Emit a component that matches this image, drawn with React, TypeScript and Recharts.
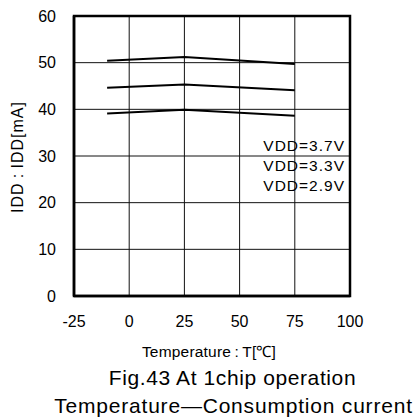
import React from "react";
import { LineChart, Line, XAxis, YAxis, CartesianGrid, ReferenceArea } from "recharts";

const temperatures = [-10, 25, 75];
const idd37 = [50.4, 51.2, 49.7];
const idd33 = [44.6, 45.3, 44.1];
const idd29 = [39.1, 39.9, 38.6];
const xTicks = [-25, 0, 25, 50, 75, 100];
const yTicks = [0, 10, 20, 30, 40, 50, 60];
const seriesLabels = ["VDD=3.7V", "VDD=3.3V", "VDD=2.9V"];

const data = temperatures.map((t, i) => ({ t, a: idd37[i], b: idd33[i], c: idd29[i] }));

const FONT = "'Liberation Sans', Arial, sans-serif";

const centered = (x: number, y: number, size: number, spacing: number): React.CSSProperties => ({
  position: "absolute",
  left: x,
  top: y,
  transform: "translate(-50%, -50%)",
  fontSize: size,
  letterSpacing: spacing,
  whiteSpace: "nowrap",
  lineHeight: 1.15,
});

export default function App() {
  return (
    <div style={{ position: "absolute", left: 0, top: 0, width: 414, height: 417, background: "#fff", fontFamily: FONT, color: "#000", overflow: "hidden" }}>
      <LineChart width={414} height={417} data={data} margin={{ top: 16, right: 64, bottom: 0, left: 44 }}>
        <CartesianGrid stroke="#111" strokeWidth={1} verticalValues={xTicks} horizontalValues={yTicks} />
        <XAxis
          dataKey="t"
          type="number"
          domain={[-25, 100]}
          ticks={xTicks}
          height={121}
          axisLine={{ stroke: "#000", strokeWidth: 2.5 }}
          tickLine={false}
          tickSize={0}
          tickMargin={20}
          tick={{ fill: "#000", fontSize: 16, fontFamily: FONT }}
          interval={0}
        />
        <YAxis
          type="number"
          domain={[0, 60]}
          ticks={yTicks}
          width={30}
          axisLine={{ stroke: "#000", strokeWidth: 2.5 }}
          tickLine={false}
          tickSize={0}
          tickMargin={18}
          tick={{ fill: "#000", fontSize: 16, fontFamily: FONT }}
          interval={0}
        />
        <ReferenceArea x1={-25} x2={100} y1={0} y2={60} fill="none" stroke="#000" strokeWidth={2.5} ifOverflow="visible" />
        <Line dataKey="a" stroke="#000" strokeWidth={2} dot={false} isAnimationActive={false} />
        <Line dataKey="b" stroke="#000" strokeWidth={2} dot={false} isAnimationActive={false} />
        <Line dataKey="c" stroke="#000" strokeWidth={2} dot={false} isAnimationActive={false} />
      </LineChart>
      {seriesLabels.map((s, i) => (
        <div
          key={s}
          style={{
            position: "absolute",
            right: 414 - 345,
            top: 145.5 + i * 20,
            transform: "translateY(-50%)",
            fontSize: 15.5,
            letterSpacing: 1,
            lineHeight: 1.15,
            textAlign: "right",
            whiteSpace: "nowrap",
          }}
        >
          {s}
        </div>
      ))}
      <div style={{ ...centered(17.5, 157, 16, 1), transform: "translate(-50%, -50%) rotate(-90deg)" }}>
        IDD{"\u2009"}:{"\u2009"}IDD[mA]
      </div>
      <div style={centered(209, 352, 15.5, 0.2)}>
        Temperature{"\u2009"}:{"\u2009"}T[℃]
      </div>
      <div style={centered(232.5, 377.5, 21, 0.6)}>Fig.43 At 1chip operation</div>
      <div style={centered(233.5, 405.5, 21, 0.8)}>Temperature—Consumption current</div>
    </div>
  );
}
